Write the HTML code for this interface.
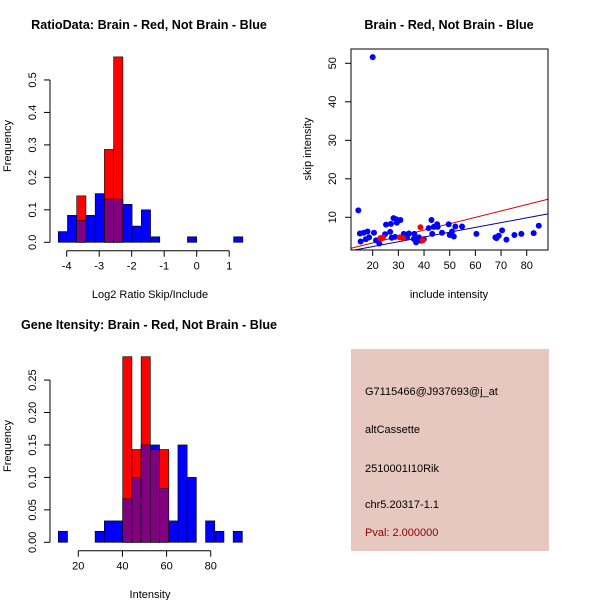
<!DOCTYPE html>
<html><head><meta charset="utf-8"><style>
body{margin:0;background:#fff}
svg{display:block;font-family:"Liberation Sans",sans-serif}
</style></head><body>
<svg id="c" width="600" height="600"></svg>
<script>
// ---- data: ratio histogram ----
const ratioBlue=[0.033,0.083,0.067,0.083,0.15,0.133,0.133,0.117,0.05,0.1,0.017,0,0,0,0.017,0,0,0,0,0.017];
const ratioRed=[0,0,0.143,0,0,0.286,0.571,0,0,0,0,0,0,0,0,0,0,0,0,0];
const ratioXTicks=[-4,-3,-2,-1,0,1];
const ratioYTicks=[0,0.1,0.2,0.3,0.4,0.5];
// ---- data: intensity histogram ----
const intBlue=[0.017,0,0,0,0.017,0.033,0.033,0.067,0.1,0.15,0.15,0.083,0.033,0.15,0.1,0,0.033,0.017,0,0.017];
const intRed=[0,0,0,0,0,0,0,0.286,0.143,0.286,0.143,0.143,0,0,0,0,0,0,0,0];
const intXTicks=[20,40,60,80];
const intYTicks=[0,0.05,0.1,0.15,0.2,0.25];
// ---- data: scatter ----
const blueX=[20,14.4,15,16.5,18,15.3,17.3,18.6,20.5,21.3,22.6,25.2,24.8,26.8,27.1,28.1,29.1,29.4,27.4,28.7,30.8,32.1,33.4,34.1,36,36.2,36.9,38,38.9,39.9,41.8,42.9,43.2,43.8,45.1,45.3,47,49.6,50,50.9,51.6,52.2,54.8,60.4,67.8,68.2,69.1,70.4,72.1,75.2,77.9,82.7,84.7];
const blueY=[51.6,11.8,5.8,6,6.3,3.7,4.3,4.8,6,4,3.2,8.1,5.6,6.2,8.3,9.8,9.5,8.6,4.7,4.9,9.3,5.7,4.8,5.8,4.4,5.7,3.5,4.8,3.9,4.3,7.2,9.3,5.7,7.5,8.2,7.5,6,8.2,5.4,6.3,5,7.6,7.6,5.7,4.8,4.6,5.2,6.6,4.2,5.4,5.7,5.9,7.8];
const redX=[23,24,30.5,31.8,38.6,39.5];
const redY=[4.6,4.7,4.8,4.6,7.4,4];
const redLine=[0.03,0.166];
const blueLine=[-0.10,0.1245];
const scXTicks=[20,30,40,50,60,70,80];
const scYTicks=[10,20,30,40,50];

const svg=document.getElementById('c');
const NS='http://www.w3.org/2000/svg';
function el(tag,attrs,parent){const e=document.createElementNS(NS,tag);for(const k in attrs)e.setAttribute(k,attrs[k]);(parent||svg).appendChild(e);return e;}
function txt(s,x,y,opt,parent){const t=el('text',Object.assign({x:x,y:y,'font-size':11,'text-anchor':'middle',fill:'#000'},opt||{}),parent);t.textContent=s;return t;}

function hist(name,blue,red,x0,w,xs,ys,xTicks,yTicks,yFmt,axY,axX){
  const g=el('g',{});
  
  
  for(let i=0;i<blue.length;i++){
    const b=blue[i],r=red[i],xl=xs(x0+i*w),xr=xs(x0+(i+1)*w);
    if(b>0){const rc=el('rect',{x:xl,y:ys(b),width:xr-xl,height:ys(0)-ys(b),fill:'#0000ff',stroke:'#000','stroke-width':0.6},g);
      }
    if(r>0){const rc=el('rect',{x:xl,y:ys(r),width:xr-xl,height:ys(0)-ys(r),fill:'#ff0000',stroke:'#000','stroke-width':0.6},g);
      }
    const m=Math.min(b,r);
    if(m>0){const rc=el('rect',{x:xl,y:ys(m),width:xr-xl,height:ys(0)-ys(m),fill:'#800080',stroke:'#000','stroke-width':0.6},g);
      }
  }
  el('line',{x1:axY,x2:axY,y1:ys(yTicks[0]),y2:ys(yTicks[yTicks.length-1]),stroke:'#000'},g);
  yTicks.forEach(v=>{el('line',{x1:axY-6,x2:axY,y1:ys(v),y2:ys(v),stroke:'#000'},g);
    txt(yFmt(v),axY-14,ys(v),{transform:`rotate(-90 ${axY-14} ${ys(v)})`},g);});
  el('line',{x1:xs(xTicks[0]),x2:xs(xTicks[xTicks.length-1]),y1:axX,y2:axX,stroke:'#000'},g);
  xTicks.forEach(v=>{el('line',{x1:xs(v),x2:xs(v),y1:axX,y2:axX+6,stroke:'#000'},g);txt(String(v),xs(v),axX+19,{},g);});
  return g;
}
// top-left
{
const xs=v=>66.7+(v+4)*32.5, ys=v=>242.3-v*324.7;
hist('ratio-histogram',ratioBlue,ratioRed,-4.26,0.284,xs,ys,ratioXTicks,ratioYTicks,v=>v.toFixed(1),50,250.7);
const t=txt('RatioData: Brain - Red, Not Brain - Blue',149,29,{'font-weight':'bold','font-size':12.6});

const xl=txt('Log2 Ratio Skip/Include',150,298);
const yl=txt('Frequency',11,146,{transform:'rotate(-90 11 146)'});
}
// bottom-left
{
const xs=v=>78.3+(v-20)*2.207, ys=v=>542.3-v*649;
hist('intensity-histogram',intBlue,intRed,10.94,4.17,xs,ys,intXTicks,intYTicks,v=>v.toFixed(2),50,550.7);
const t=txt('Gene Itensity: Brain - Red, Not Brain - Blue',149,329,{'font-weight':'bold','font-size':12.6});

const xl=txt('Intensity',150,598);
const yl=txt('Frequency',11,446,{transform:'rotate(-90 11 446)'});
}
// scatter
{
const xs=v=>372.7+(v-20)*2.567, ys=v=>217.3-(v-10)*3.85;
const g=el('g',{});

const cp=el('clipPath',{id:'sc'},g);el('rect',{x:351,y:49,width:197,height:201},cp);
const xmin=11.55,xmax=88.3;
[[redLine,'#cc0000'],[blueLine,'#00008b']].forEach(([L,c])=>{
  const ln=el('line',{x1:xs(xmin),y1:ys(L[0]+L[1]*xmin),x2:xs(xmax),y2:ys(L[0]+L[1]*xmax),stroke:c,'clip-path':'url(#sc)'},g);
  });
blueX.forEach((x,i)=>{const c=el('circle',{cx:xs(x),cy:ys(blueY[i]),r:3,fill:'#0000ff'},g);
  });
redX.forEach((x,i)=>{const c=el('circle',{cx:xs(x),cy:ys(redY[i]),r:3,fill:'#ff0000'},g);
  });
el('rect',{x:351,y:49,width:197,height:201,fill:'none',stroke:'#000'},g);
scXTicks.forEach(v=>{el('line',{x1:xs(v),x2:xs(v),y1:250,y2:256,stroke:'#000'},g);txt(String(v),xs(v),269,{},g);});
scYTicks.forEach(v=>{el('line',{x1:345,x2:351,y1:ys(v),y2:ys(v),stroke:'#000'},g);txt(String(v),336,ys(v),{transform:`rotate(-90 336 ${ys(v)})`},g);});
const t=txt('Brain - Red, Not Brain - Blue',449,29,{'font-weight':'bold','font-size':12.6});

const xl=txt('include intensity',449,298);
const yl=txt('skip intensity',311,149,{transform:'rotate(-90 311 149)'});
}
// info panel
{
const g=el('g',{});

el('rect',{x:351,y:349,width:198,height:202,fill:'#e6c8c0'},g);
const lines=[['G7115466@J937693@j_at',395,'#000'],['altCassette',433,'#000'],['2510001I10Rik',472,'#000'],['chr5.20317-1.1',508,'#000'],['Pval: 2.000000',536,'#8b0000']];
lines.forEach(l=>{const t=txt(l[0],365,l[1],{'text-anchor':'start',fill:l[2]},g);
  });
}
</script>
</body></html>
